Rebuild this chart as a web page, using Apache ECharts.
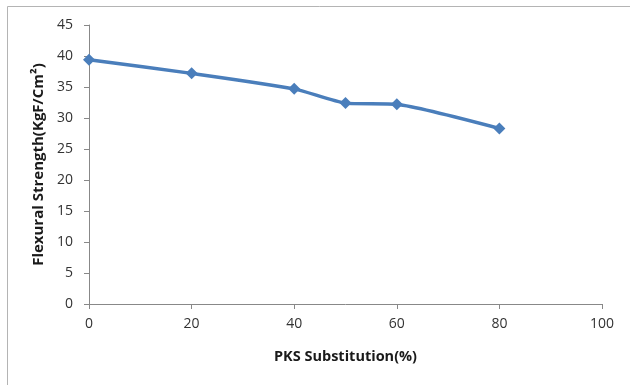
<!DOCTYPE html>
<html><head><meta charset="utf-8">
<script src="https://cdn.jsdelivr.net/npm/echarts@6/dist/echarts.min.js"></script>
<style>html,body{margin:0;padding:0;background:#fff}#c{width:630px;height:385px}</style>
</head><body><div id="c"></div>
<script>
const xValues = [0, 20, 40, 50, 60, 80];
const strength = [39.4, 37.2, 34.7, 32.4, 32.2, 28.3];
const xTicks = [0, 20, 40, 60, 80, 100];
const yTicks = [0, 5, 10, 15, 20, 25, 30, 35, 40, 45];
const xName = 'PKS Substitution(%)';
const yName = 'Flexural Strength(KgF/Cm²)';

const chart = echarts.init(document.getElementById('c'), null, {renderer: 'canvas'});
const font = "'Open Sans', 'Liberation Sans', sans-serif";
chart.setOption({
  animation: false,
  backgroundColor: '#fff',
  graphic: [{
    type: 'rect', shape: {x: 7.5, y: 6.5, width: 800, height: 600},
    style: {fill: 'none', stroke: '#b4b4b4', lineWidth: 1}, silent: true
  }],
  grid: {left: 89, top: 25, right: 28, bottom: 81, containLabel: false},
  xAxis: {
    type: 'value', min: xTicks[0], max: xTicks[xTicks.length - 1], interval: 20,
    name: xName, nameLocation: 'middle', nameGap: 45,
    nameTextStyle: {fontFamily: font, fontWeight: 'bold', fontSize: 14.5, color: '#1a1a1a'},
    axisLine: {lineStyle: {color: '#888', width: 1}},
    axisTick: {show: true, length: 5, lineStyle: {color: '#888'}},
    axisLabel: {fontFamily: font, fontSize: 14, color: '#333', margin: 13},
    splitLine: {show: false}
  },
  yAxis: {
    type: 'value', min: yTicks[0], max: yTicks[yTicks.length - 1], interval: 5,
    name: yName, nameLocation: 'middle', nameGap: 42, nameRotate: 90,
    nameTextStyle: {fontFamily: font, fontWeight: 'bold', fontSize: 15, color: '#1a1a1a'},
    axisLine: {show: true, lineStyle: {color: '#888', width: 1}},
    axisTick: {show: true, length: 5, lineStyle: {color: '#888'}},
    axisLabel: {fontFamily: font, fontSize: 14, color: '#333', margin: 16},
    splitLine: {show: false}
  },
  series: [{
    type: 'line',
    data: xValues.map((x, i) => [x, strength[i]]),
    smooth: 0.2,
    symbol: 'diamond', symbolSize: 12,
    lineStyle: {color: '#4a7ebb', width: 3.5},
    itemStyle: {color: '#4a7ebb'}
  }]
});
</script></body></html>
